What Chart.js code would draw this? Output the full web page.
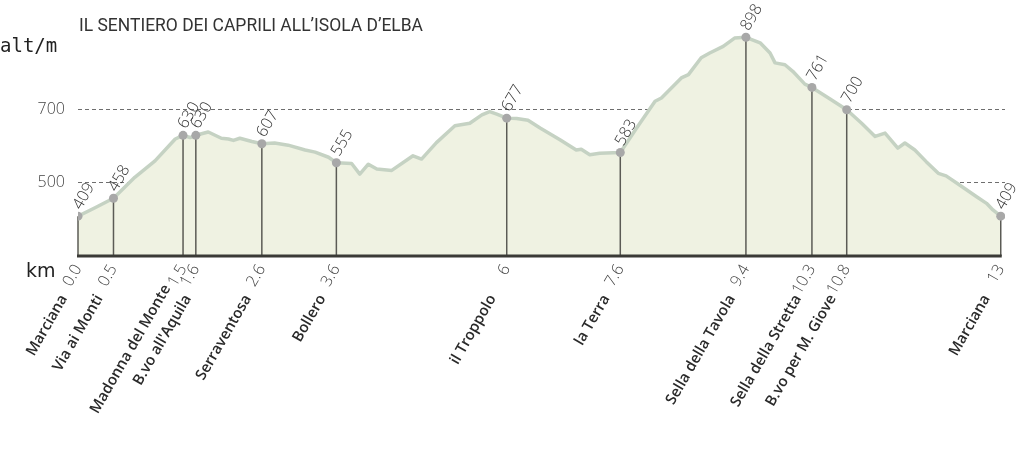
<!DOCTYPE html>
<html lang="it">
<head>
<meta charset="UTF-8">
<title>Il sentiero dei Caprili all'Isola d'Elba</title>
<script src="https://cdn.jsdelivr.net/npm/chart.js"></script>
<style>
  body { margin: 0; background: #fff; }
  #wrap { width: 1024px; height: 453px; }
</style>
</head>
<body>
<div id="wrap"><canvas id="profile" width="1024" height="453"></canvas></div>
<script>
// profilo altimetrico: distanza (km) e quota (m)
const profileKm = [0, 0.24, 0.5, 0.8, 1.085, 1.37, 1.48, 1.58, 1.66, 1.835, 2.02, 2.12, 2.19, 2.28, 2.45,
  2.59, 2.77, 2.96, 3.2, 3.34, 3.53, 3.64, 3.855, 3.97, 4.09, 4.21, 4.42, 4.72, 4.84, 5.05, 5.31,
  5.52, 5.69, 5.8, 5.9, 6.04, 6.18, 6.34, 6.51, 6.79, 7.02, 7.09, 7.21, 7.35, 7.64, 7.87, 8.13,
  8.22, 8.5, 8.6, 8.78, 8.9, 9.09, 9.25, 9.41, 9.61, 9.75, 9.82, 9.96, 10.07, 10.24, 10.34, 10.59,
  10.83, 11.04, 11.23, 11.37, 11.55, 11.65, 11.79, 11.95, 12.12, 12.23, 12.42, 12.66, 12.8, 12.89, 13];
const profileAlt = [409, 432, 458, 515, 560, 620, 630, 624, 630, 639, 622, 620, 616, 622, 613,
  607, 609, 603, 590, 584, 570, 555, 553, 524, 551, 538, 534, 574, 565, 610, 656,
  663, 686, 695, 688, 677, 676, 671, 650, 618, 590, 592, 577, 581, 583, 650, 723,
  732, 787, 796, 842, 855, 873, 896, 898, 883, 855, 828, 823, 805, 770, 761, 730,
  700, 663, 627, 636, 595, 609, 590, 558, 526, 519, 494, 462, 444, 426, 409];

// punti di passaggio
const stopKm = [0, 0.5, 1.48, 1.66, 2.59, 3.64, 6.04, 7.64, 9.41, 10.34, 10.83, 13];
const stopKmLabels = ['0.0', '0.5', '1.5', '1.6', '2.6', '3.6', '6', '7.6', '9.4', '10.3', '10.8', '13'];
const stopAlt = [409, 458, 630, 630, 607, 555, 677, 583, 898, 761, 700, 409];
const stopNames = ['Marciana', 'Via ai Monti', 'Madonna del Monte', 'B.vo all\'Aquila', 'Serraventosa',
  'Bollero', 'il Troppolo', 'la Terra', 'Sella della Tavola', 'Sella della Stretta',
  'B.vo per M. Giove', 'Marciana'];

const altTicks = [500, 700];
const chartTitle = 'IL SENTIERO DEI CAPRILI ALL’ISOLA D’ELBA';

const angle = -60 * Math.PI / 180;
function rotText(ctx, txt, x, y, align) {
  ctx.save();
  ctx.translate(x, y);
  ctx.rotate(angle);
  ctx.textAlign = align;
  ctx.textBaseline = 'middle';
  ctx.fillText(txt, 0, 0);
  ctx.restore();
}

const profilePlugin = {
  id: 'profileLabels',
  beforeDatasetDraw(chart, args) {
    // aste verticali sotto i punti
    if (args.index !== 0) return;
    const { ctx, scales: { x, y } } = chart;
    ctx.save();
    ctx.strokeStyle = '#5b5b55';
    ctx.lineWidth = 1.5;
    stopKm.forEach((k, i) => {
      const px = x.getPixelForValue(k);
      ctx.beginPath();
      ctx.moveTo(px, y.getPixelForValue(stopAlt[i]));
      ctx.lineTo(px, y.bottom);
      ctx.stroke();
    });
    ctx.restore();
  },
  afterDraw(chart) {
    const { ctx, scales: { x, y } } = chart;
    ctx.save();

    // linea di base
    ctx.strokeStyle = '#3a3a36';
    ctx.lineWidth = 3;
    ctx.beginPath();
    ctx.moveTo(x.getPixelForValue(stopKm[0]) - 1, y.bottom);
    ctx.lineTo(x.getPixelForValue(stopKm[stopKm.length - 1]) + 1, y.bottom);
    ctx.stroke();

    // etichette asse quote
    ctx.fillStyle = '#444';
    ctx.font = '300 16px "Open Sans"';
    ctx.textAlign = 'right';
    ctx.textBaseline = 'middle';
    altTicks.forEach(v => ctx.fillText(String(v), x.left - 13, y.getPixelForValue(v)));

    const xs = stopKm.map(k => x.getPixelForValue(k));

    // quote
    ctx.fillStyle = '#333';
    ctx.font = '300 16px "Open Sans"';
    stopAlt.forEach((a, i) => {
      rotText(ctx, String(a), xs[i] - 1, y.getPixelForValue(a) - 8, 'left');
    });

    // km
    ctx.fillStyle = '#444';
    stopKmLabels.forEach((t, i) => {
      rotText(ctx, t, xs[i], y.bottom + 10, 'right');
    });

    // nomi
    ctx.fillStyle = '#2a2a2a';
    ctx.font = '600 15px "Open Sans"';
    stopNames.forEach((n, i) => {
      let nx = xs[i] - 14, ny = y.bottom + 40;
      if (i < xs.length - 1 && xs[i + 1] - xs[i] < 15) { nx -= 2; ny -= 10; }
      if (i > 0 && xs[i] - xs[i - 1] < 15) { nx += 6; }
      rotText(ctx, n, nx, ny, 'right');
    });

    // titolo e unita
    ctx.textAlign = 'left';
    ctx.textBaseline = 'alphabetic';
    ctx.fillStyle = '#333';
    ctx.font = '400 18px Roboto';
    ctx.fillText(chartTitle, 79, 31, 344);
    ctx.fillStyle = '#222';
    ctx.font = '19px "DejaVu Sans Mono"';
    ctx.fillText('alt/m', 0, 52);
    ctx.font = '19px "DejaVu Sans"';
    ctx.fillText('km', 26, 277);
    ctx.restore();
  }
};

new Chart(document.getElementById('profile'), {
  type: 'line',
  data: {
    datasets: [
      {
        data: stopKm.map((k, i) => ({ x: k, y: stopAlt[i] })),
        showLine: false,
        pointRadius: 4.5,
        pointBackgroundColor: '#a8a8a8',
        pointBorderWidth: 0
      },
      {
        data: profileKm.map((k, i) => ({ x: k, y: profileAlt[i] })),
        borderColor: '#c5d2c3',
        borderWidth: 3.5,
        backgroundColor: '#eff2e2',
        fill: 'start',
        pointRadius: 0,
        tension: 0,
        borderJoinStyle: 'round'
      }
    ]
  },
  options: {
    responsive: false,
    animation: false,
    events: [],
    layout: { autoPadding: false, padding: { top: 0, right: 19, bottom: 197, left: 78 } },
    plugins: { legend: { display: false }, tooltip: { enabled: false } },
    scales: {
      x: { type: 'linear', min: 0, max: 13.06, display: false },
      y: {
        min: 300,
        max: 1000,
        z: 1,
        afterBuildTicks: s => { s.ticks = altTicks.map(v => ({ value: v })); },
        grid: { color: '#6e6e6e', lineWidth: 1, drawTicks: false },
        border: { display: false, dash: [4, 3] },
        ticks: { display: false }
      }
    }
  },
  plugins: [profilePlugin]
});
</script>
</body>
</html>
